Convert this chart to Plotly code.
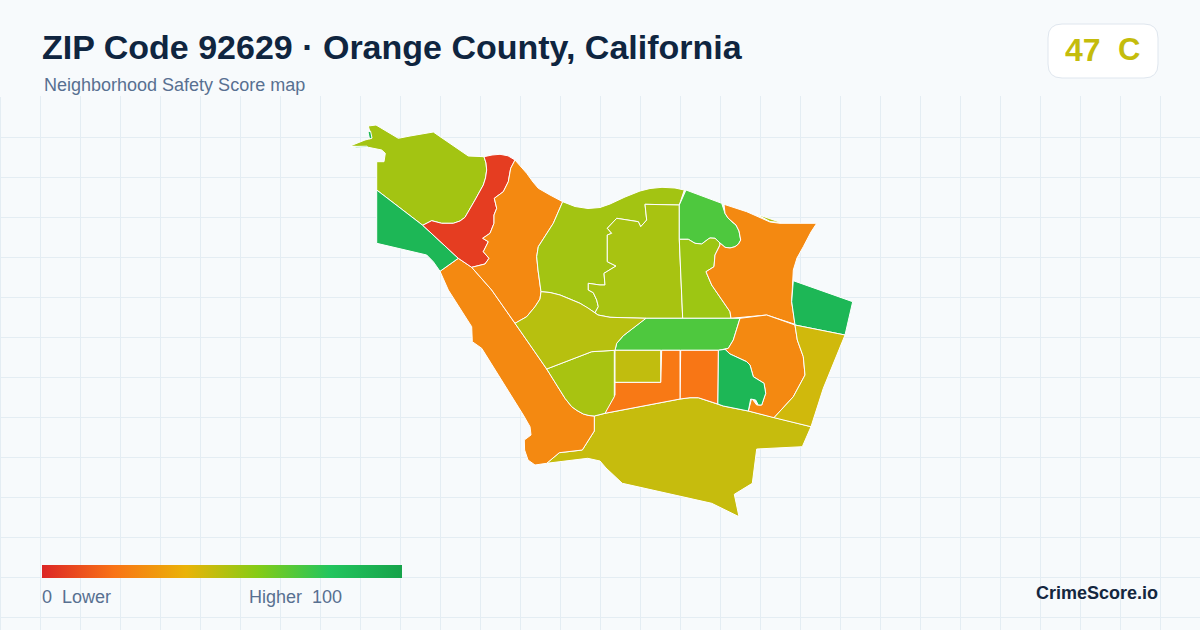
import plotly.graph_objects as go
from plotly.colors import sample_colorscale

# Colour ramp of the safety score
score_stops = [0, 20, 40, 60, 80, 100]
score_colors = ["#dc2626", "#f97316", "#eab308", "#84cc16", "#22c55e", "#16a34a"]

# Neighbourhood boundaries (map units) and scores
nw_hills = [(376.7,190),(376.7,161.7),(384,161.7),(385.3,153.3),(381.7,150),(368.3,147.3),(350,146),(365,140),(371.7,138.3),(368.3,126),(376,125),(398.3,138.3),(410,136),(433.3,132),(468.3,156),(484,156.7),(486,163),(486.7,170),(485.5,178),(483.3,185),(475,200),(465,217.3),(460,221),(453.3,223.3),(441.7,223.3),(431.7,220.7),(422.7,225.3)]
sliver_a = [(351,146.5),(367,146.2),(368,147.5),(356,147.8)]
sliver_b = [(368,132),(370.5,131),(372,138),(369.5,139)]
west_green = [(376.7,190),(422.7,225.3),(458.3,258.3),(440,271.3),(433.3,261.7),(426.7,255),(376.7,243.3)]
red_strip = [(484,156.7),(492,155),(500,154.3),(508,155.8),(515,160),(510.7,168.3),(508.3,181.7),(503.3,191.7),(494.3,198.3),(496.7,208.3),(494,215),(494,223.3),(490,233.3),(482.7,238.3),(488.3,241.7),(483.3,251.7),(489,258.3),(485,264),(471.7,267.3),(458.3,258.3),(422.7,225.3),(431.7,220.7),(441.7,223.3),(453.3,223.3),(460,221),(465,217.3),(475,200),(483.3,185),(485.5,178),(486.7,170),(486,163)]
centre_orange = [(515,160),(526.7,173.3),(533,182),(538.3,188.3),(550,195),(562.7,201.7),(553.3,223.3),(538.3,246.7),(536.7,256.7),(538,270),(541,291.7),(540,299),(535,306.7),(526.7,316.7),(515,323.3),(491.7,290),(471.7,267.3),(485,264),(489,258.3),(483.3,251.7),(488.3,241.7),(482.7,238.3),(490,233.3),(494,223.3),(494,215),(496.7,208.3),(494.3,198.3),(503.3,191.7),(508.3,181.7),(510.7,168.3)]
coast_orange = [(458.3,258.3),(440,271.3),(448.3,290),(471.7,326.7),(472.3,341.7),(481.7,348.3),(523.3,415),(530,426.7),(531,435),(524.3,440),(524.6,450),(528,460),(535,465),(546.7,463.3),(559.3,452.7),(582.3,450),(594.3,431),(594.3,416),(589,415.5),(583.3,414),(577,410.5),(571.7,406.7),(565,398.3),(546.7,369),(515,323.3),(491.7,290),(471.7,267.3)]
west_lime = [(562.7,201.7),(575,206.5),(588,208.5),(600,207.5),(610,204),(625,197),(640,191),(650,188.5),(662,187.3),(675,188),(684.3,190),(679.3,205),(645,204.3),(646.7,220),(640.7,226.7),(638.3,221.7),(616.7,218.3),(607.3,228.3),(611.7,233.3),(607.3,235),(607.3,261.7),(616,266),(604,273.3),(605,285),(600,285),(588.3,283.3),(588.3,290),(593.3,292.7),(596.7,300),(598.3,306.7),(595,312.7),(588,308),(580,303.3),(570,299),(560,295),(550,292.5),(541,291.7),(538,270),(536.7,256.7),(538.3,246.7),(553.3,223.3)]
inner_lime = [(679.3,205),(645,204.3),(646.7,220),(640.7,226.7),(638.3,221.7),(616.7,218.3),(607.3,228.3),(611.7,233.3),(607.3,235),(607.3,261.7),(616,266),(604,273.3),(605,285),(600,285),(588.3,283.3),(588.3,290),(593.3,292.7),(596.7,300),(598.3,306.7),(595,312.7),(598,315),(610,317.3),(646.7,318.3),(682.7,318.3),(679.3,240)]
north_green = [(686,190),(721.7,203.3),(725,213.3),(728,218),(731.7,221.7),(736,225),(739,231),(740.7,240),(738.5,244),(735,246.7),(730,248),(725,247.3),(720,243),(715,238.3),(710,238),(708.3,239),(701.7,244),(695,243.3),(688.3,239.3),(679.3,239.3),(679.3,205)]
mid_lime = [(679.3,239.3),(688.3,239.3),(695,243.3),(701.7,244),(708.3,239),(710,238),(715,238.3),(720,243),(720,245),(715,255),(714,266.7),(706,271.7),(711.7,285),(730,311.7),(731,318.3),(682.7,318.3)]
east_orange = [(724,204.3),(746.7,211.7),(770,222),(780,223.3),(816.7,223.3),(811,232),(803.3,246.7),(797,258),(793.3,270),(791.7,301.7),(795,324.3),(766.7,315),(731,318.3),(730,311.7),(711.7,285),(706,271.7),(714,266.7),(715,255),(720,245),(720,243),(725,247.3),(730,248),(735,246.7),(738.5,244),(740.7,240),(739,231),(736,225),(731.7,221.7),(728,218),(725,213.3)]
east_sliver = [(756,214),(770,219),(781,222.5),(770,221.5)]
ne_green = [(793.3,280.7),(852.7,301.7),(845,335),(795,325),(791.7,301.7)]
band_green = [(645.7,318.3),(740,318.3),(733.3,340),(728.3,348.3),(718.3,350.3),(615,350.3),(616.7,343.3),(623.3,335.7)]
se_orange = [(740,318.3),(766.7,315),(795,325),(797.3,340),(803.3,356.7),(805,375),(798,388),(793.3,396.7),(774,417.7),(748.3,411),(751.7,398.3),(756.7,405),(761.7,405),(765.7,393.3),(764,383.3),(753.3,376.7),(750,365),(746.7,361.7),(730,354),(725,349.3),(728.3,348.3),(733.3,340)]
south_green = [(718.3,350.3),(725,349.3),(730,354),(746.7,361.7),(750,365),(753.3,376.7),(764,383.3),(765.7,393.3),(761.7,405),(758.3,405),(755.7,400),(750.7,399),(748.3,411),(723.3,406),(717.7,404)]
far_east = [(795,325),(845,335),(823.3,388.3),(811,426.7),(774,417.7),(793.3,396.7),(798,388),(805,375),(803.3,356.7),(797.3,340)]
deep_orange = [(680.7,350.3),(718.3,350.3),(717.7,404),(698.3,397.7),(690,397.7),(680,399)]
ell_orange = [(661.7,350.3),(680,350.3),(680,399),(605,413.3),(608.3,405),(615,395),(615,382.3),(660.7,382.3)]
square_olive = [(615,350.3),(660.7,350.3),(660.7,382.3),(615,382.3)]
sw_lime = [(546.7,369),(591.7,351.7),(614.3,350.3),(614.3,396.7),(605,413.3),(594.3,416),(589,415.5),(583.3,414),(577,410.5),(571.7,406.7),(565,398.3)]
west_olive = [(515,323.3),(526.7,316.7),(535,306.7),(540,299),(541,291.7),(550,292.5),(560,295),(570,299),(580,303.3),(588,308),(595,312.7),(598,315),(610,317.3),(646,318.3),(623.3,335.7),(616.7,343.3),(615,350.3),(591.7,351.7),(546.7,369)]
south_big = [(594.3,416),(605,413.3),(680,399),(690,397.7),(698.3,397.7),(717.7,404),(723.3,406),(748.3,411),(774,417.7),(811,426.7),(802.3,446.7),(756.7,449),(752.3,483.3),(734.3,494.3),(739,516.7),(711.7,503.3),(622.3,483.3),(606,468),(600,461),(587.7,458.3),(546.7,463.3),(559.3,452.7),(582.3,450),(594.3,431)]

regions = [south_big, coast_orange, nw_hills, sliver_a, sliver_b, west_green, red_strip, centre_orange, west_lime, inner_lime, north_green, mid_lime, east_orange, east_sliver, ne_green, band_green, se_orange, south_green, far_east, deep_orange, ell_orange, square_olive, sw_lime, west_olive]
scores =  [47, 27, 54, 88, 88, 88, 6, 27, 54, 53, 71, 55, 27, 52, 88, 71, 27, 88, 45, 21, 22, 48, 53, 50]

# Page texts
title = "ZIP Code 92629 · Orange County, California"
subtitle = "Neighborhood Safety Score map"
badge_score = "47"
badge_grade = "C"
legend_texts = ["0", "Lower", "Higher", "100"]
brand = "CrimeScore.io"

W, H = 1200, 630
HEADER = 96
GRID = "#e4edf3"
MUTED = "#587091"
scale = [[s / 100, c] for s, c in zip(score_stops, score_colors)]
fig = go.Figure()

for boundary, score in zip(regions, scores):
    xs = [p[0] for p in boundary] + [boundary[0][0]]
    ys = [p[1] for p in boundary] + [boundary[0][1]]
    fig.add_trace(go.Scatter(
        x=xs, y=ys, mode="lines", fill="toself",
        fillcolor=sample_colorscale(scale, score / 100)[0],
        line=dict(color="#ffffff", width=1), hoverinfo="skip", showlegend=False))

# Gradient legend: a real colour bar, fed by a pair of off-range points
fig.add_trace(go.Scatter(
    x=[-50, -50], y=[-50, -50], mode="markers", showlegend=False, hoverinfo="skip",
    marker=dict(
        color=[score_stops[0], score_stops[-1]], cmin=0, cmax=100, colorscale=scale,
        showscale=True,
        colorbar=dict(orientation="h", x=42 / W, xanchor="left", y=(H - 578) / H, yanchor="bottom",
                      thickness=13, thicknessmode="pixels", len=360, lenmode="pixels",
                      xpad=0, ypad=0, outlinewidth=0, borderwidth=0, showticklabels=False, ticks=""))))

fig.update_xaxes(range=[0, W], domain=[0, 1], tick0=0, dtick=40, showgrid=True, gridcolor=GRID, gridwidth=1,
                 zeroline=False, showticklabels=False, ticks="", showline=False, fixedrange=True)
fig.update_yaxes(range=[H, HEADER], domain=[0, (H - HEADER) / H], tick0=97, dtick=40, showgrid=True,
                 gridcolor=GRID, gridwidth=1, zeroline=False, showticklabels=False, ticks="", showline=False, fixedrange=True)
fig.add_shape(type="line", xref="paper", yref="paper", x0=0.5 / W, x1=0.5 / W, y0=0, y1=1 - 97 / H,
              layer="below", line=dict(color=GRID, width=1))

FONT = "Liberation Sans, Arial, sans-serif"
def label(text, x, y, size, color, anchor="left", bold=False):
    fig.add_annotation(text=f"<b>{text}</b>" if bold else text, xref="paper", yref="paper",
                       x=x / W, y=1 - y / H, xanchor=anchor, yanchor="middle", showarrow=False,
                       font=dict(family=FONT, size=size, color=color), borderpad=0, borderwidth=0)

label(title, 42, 47, 34, "#0f2540", bold=True)
label(subtitle, 44, 85, 18, MUTED)
label(badge_score, 1065, 50, 32, "#c4bc0c", bold=True)
label(badge_grade, 1118, 50, 31, "#c4bc0c", bold=True)
label(legend_texts[0], 42, 597, 18, MUTED)
label(legend_texts[1], 62, 597, 18, MUTED)
label(legend_texts[2], 249, 597, 18, MUTED)
label(legend_texts[3], 342, 597, 18, MUTED, anchor="right")
label(brand, 1158, 593, 18, "#14273f", anchor="right", bold=True)

# Rounded score badge
x0, x1, y0, y1, r = 1048 / W, 1158 / W, 1 - 78 / H, 1 - 24 / H, 14
rx, ry = r / W, r / H
fig.add_shape(type="path", xref="paper", yref="paper", layer="above",
              path=f"M{x0+rx},{y1} L{x1-rx},{y1} Q{x1},{y1} {x1},{y1-ry} L{x1},{y0+ry} Q{x1},{y0} {x1-rx},{y0} "
                   f"L{x0+rx},{y0} Q{x0},{y0} {x0},{y0+ry} L{x0},{y1-ry} Q{x0},{y1} {x0+rx},{y1} Z",
              fillcolor="#ffffff", line=dict(color="#dfe6ee", width=1))

fig.update_layout(width=W, height=H, margin=dict(l=0, r=0, t=0, b=0, pad=0), paper_bgcolor="#f7fafc",
                  plot_bgcolor="#f7fafc", showlegend=False)
fig.write_html("out.html", config=dict(displayModeBar=False),
               post_script="document.body.style.margin='0';document.body.style.overflow='hidden';")
